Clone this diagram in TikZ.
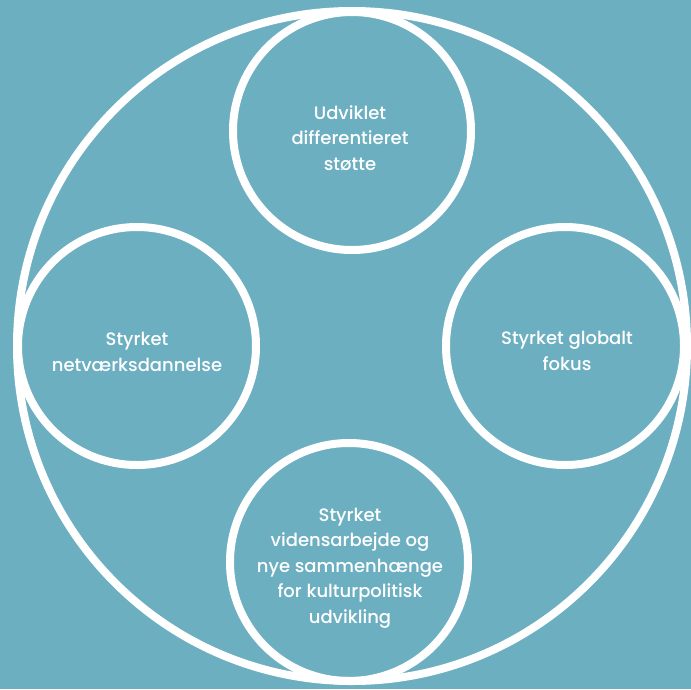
\documentclass[tikz,border=0pt]{standalone}
\usepackage{fontspec}
\setmainfont{Poppins Medium}
\definecolor{bgteal}{HTML}{6CAFC1}
\begin{document}
\begin{tikzpicture}[x=1pt,y=-1pt,
  ring/.style={circle,draw=white,line width=8pt,inner sep=0pt,outer sep=0pt},
  small/.style={ring,minimum size=238pt},
  label/.style={text=white,align=center,font=\fontsize{18}{25.5}\selectfont,inner sep=0pt}]
\useasboundingbox (0,0) rectangle (691,689);
\fill[bgteal] (0,0) rectangle (691,689);
\node[ring,minimum size=670pt] (outer) at (352,346) {};
\node[small] (top) at (352,131) {};
\node[small] (left) at (137,346) {};
\node[small] (right) at (565,346) {};
\node[small] (bottom) at (349,562) {};
\node[label] (ttop) at (350,138) {Udviklet\\differentieret\\støtte};
\node[label] (tleft) at (137,352) {Styrket\\netværksdannelse};
\node[label] (tright) at (567,351) {Styrket globalt\\fokus};
\node[label] (tbottom) at (350,568) {Styrket\\vidensarbejde og\\nye sammenhænge\\for kulturpolitisk\\udvikling};
\end{tikzpicture}
\end{document}
